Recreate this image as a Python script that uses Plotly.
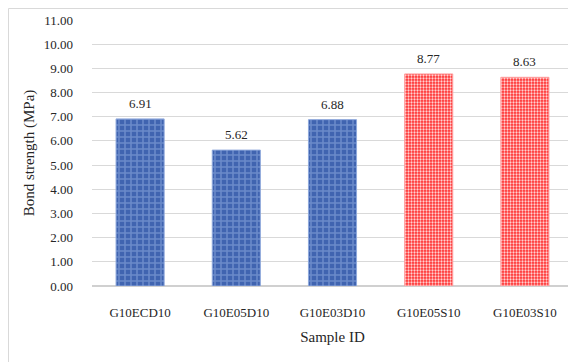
import plotly.graph_objects as go

samples = ["G10ECD10", "G10E05D10", "G10E03D10", "G10E05S10", "G10E03S10"]
bond_strength = [6.91, 5.62, 6.88, 8.77, 8.63]
y_ticks = [0, 1, 2, 3, 4, 5, 6, 7, 8, 9, 10, 11]

blue_idx = [0, 1, 2]
red_idx = [3, 4]

FONT = "Liberation Serif"
TXT = "#262626"

# page body has an 8px default margin; compensate so plot area sits at x 92-573, y 20-286
W, H = 568, 354
ML, MR, MT, MB = 84, 3, 12, 76
PW, PH = W - ML - MR, H - MT - MB

fig = go.Figure()
fig.add_trace(go.Bar(
    x=[samples[i] for i in blue_idx],
    y=[bond_strength[i] for i in blue_idx],
    marker=dict(
        color="#4267b2",
        line=dict(color="#8fa9dc", width=1),
        pattern=dict(shape="+", fgcolor="#6a8aca", bgcolor="#4064b0",
                     size=6, solidity=0.45, fillmode="replace"),
    ),
    showlegend=False,
))
fig.add_trace(go.Bar(
    x=[samples[i] for i in red_idx],
    y=[bond_strength[i] for i in red_idx],
    marker=dict(
        color="#ff4d4d",
        line=dict(color="#ffa0a0", width=1),
        pattern=dict(shape=".", fgcolor="#ffd2d2", bgcolor="#ff2e2e",
                     size=3, solidity=0.45, fillmode="replace"),
    ),
    showlegend=False,
))

annotations = [
    dict(x=s, y=v, text=f"{v:.2f}", xref="x", yref="y",
         showarrow=False, yanchor="bottom", yshift=6,
         font=dict(family=FONT, size=13, color=TXT))
    for s, v in zip(samples, bond_strength)
]

fig.update_layout(
    width=W, height=H,
    margin=dict(l=ML, r=MR, t=MT, b=MB, autoexpand=False),
    paper_bgcolor="white",
    plot_bgcolor="white",
    bargap=0.5,
    barmode="overlay",
    font=dict(family=FONT, color=TXT),
    annotations=annotations,
    xaxis=dict(
        categoryorder="array", categoryarray=samples,
        showgrid=False,
        showline=True, linecolor="#d0d0d0", linewidth=1,
        ticks="", tickfont=dict(family=FONT, size=13, color=TXT),
        ticklabelstandoff=14,
        title=dict(text="Sample ID", font=dict(family=FONT, size=15, color=TXT), standoff=12),
    ),
    yaxis=dict(
        range=[0, 11],
        tickvals=y_ticks,
        ticktext=[f"{v:.2f}" for v in y_ticks],
        showgrid=True, gridcolor="#d9d9d9", gridwidth=1,
        zeroline=True, zerolinecolor="#d0d0d0",
        showline=False, ticks="",
        tickfont=dict(family=FONT, size=13, color=TXT),
        ticklabelstandoff=18,
        title=dict(text="Bond strength (MPa)", font=dict(family=FONT, size=15, color=TXT), standoff=5),
    ),
    shapes=[dict(
        type="rect", xref="paper", yref="paper",
        x0=-(ML - 0.5) / PW, x1=1.2, y0=-0.5, y1=1 + (MT - 0.5) / PH,
        line=dict(color="#d9d9d9", width=1), fillcolor="rgba(0,0,0,0)", layer="below",
    )],
)

fig.write_html("out.html")
